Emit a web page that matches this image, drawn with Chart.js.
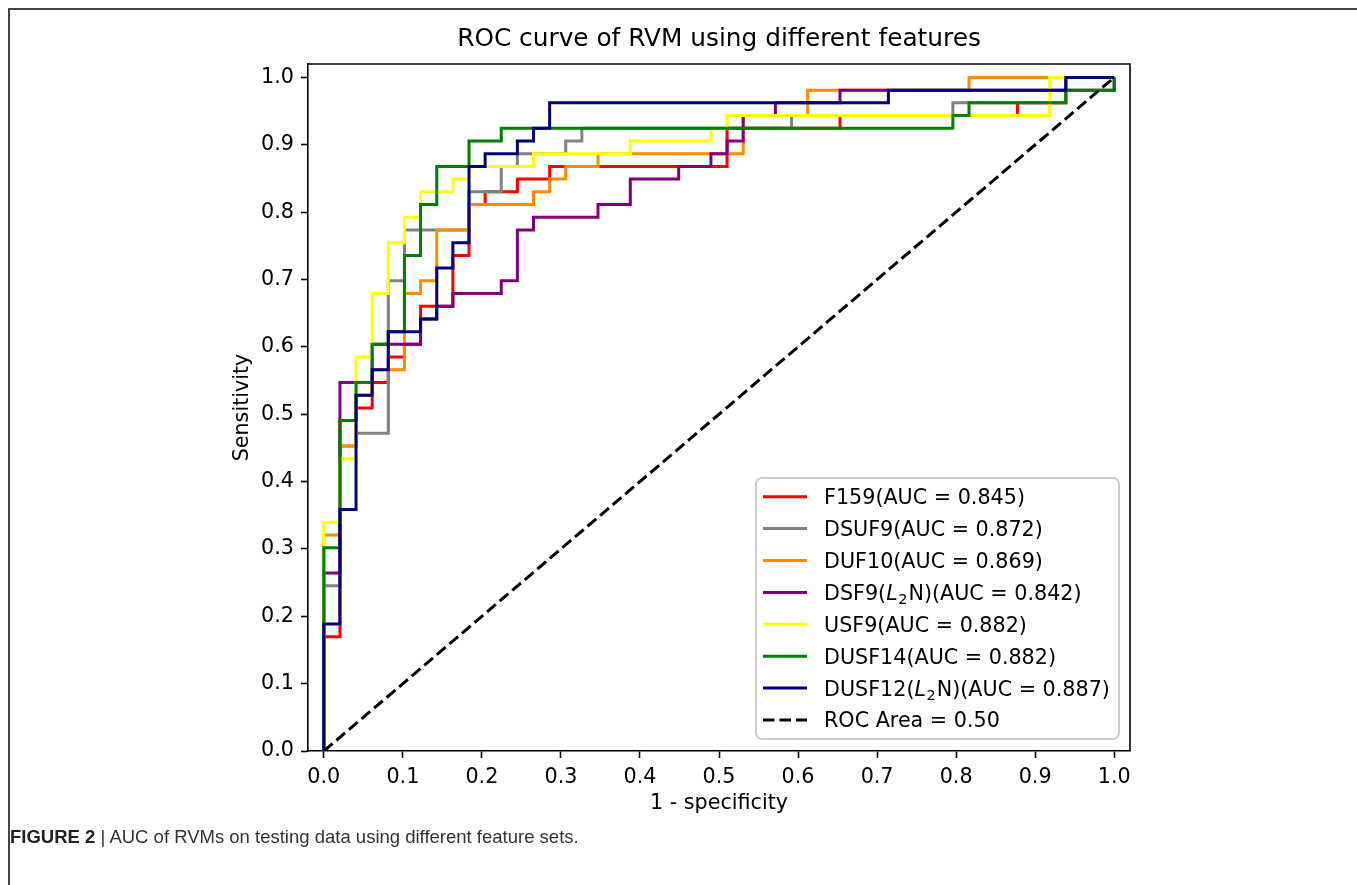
<!DOCTYPE html>
<html><head><meta charset="utf-8">
<script src="https://cdn.jsdelivr.net/npm/chart.js@4.4.1/dist/chart.umd.min.js"></script>
<style>
html,body{margin:0;padding:0;background:#fff;}
#wrap{position:relative;width:1357px;height:885px;overflow:hidden;background:#fff;}
#c{position:absolute;left:0;top:0;}
#frame{position:absolute;left:8px;top:8px;width:1400px;height:900px;border-left:2px solid #444;border-top:2px solid #444;}
#cap{position:absolute;left:10px;top:826px;font-family:"Liberation Sans",Arial,sans-serif;font-size:18.5px;color:#333;white-space:nowrap;}
#cap b{color:#222;}
</style></head><body>
<div id="wrap"><div id="frame"></div><canvas id="c" width="1357" height="885"></canvas>
<div id="cap"><b>FIGURE 2</b> | AUC of RVMs on testing data using different feature sets.</div></div>
<script>
// ---- data ----
const tickValues = [0, 0.1, 0.2, 0.3, 0.4, 0.5, 0.6, 0.7, 0.8, 0.9, 1.0];
const tickLabels = ['0.0','0.1','0.2','0.3','0.4','0.5','0.6','0.7','0.8','0.9','1.0'];
const seriesLabels = ['F159(AUC = 0.845)','DSUF9(AUC = 0.872)','DUF10(AUC = 0.869)','DSF9($L_2$N)(AUC = 0.842)','USF9(AUC = 0.882)','DUSF14(AUC = 0.882)','DUSF12($L_2$N)(AUC = 0.887)','ROC Area = 0.50'];
const seriesColors = ['#ff0000','#808080','#ff8c00','#800080','#ffff00','#008000','#000080','#000000'];

const f159_fpr = [0,0,.0204,.0204,.0408,.0408,.0612,.0612,.0816,.0816,.1020,.1020,.1224,.1224,.1633,.1633,.1837,.1837,.2041,.2041,.2449,.2449,.2857,.2857,.5102,.5102,.6531,.6531,.8776,.8776,.9388,.9388,1];
const f159_tpr = [0,.1698,.1698,.4906,.4906,.5094,.5094,.5472,.5472,.5849,.5849,.6038,.6038,.6604,.6604,.7358,.7358,.8113,.8113,.8302,.8302,.8491,.8491,.8679,.8679,.9245,.9245,.9434,.9434,.9623,.9623,1,1];

const dsuf9_fpr = [0,0,.0204,.0204,.0408,.0408,.0816,.0816,.1020,.1020,.1837,.1837,.2245,.2245,.2449,.2449,.3061,.3061,.3265,.3265,.5918,.5918,.7959,.7959,.9388,.9388,1];
const dsuf9_tpr = [0,.2453,.2453,.4528,.4528,.4717,.4717,.6981,.6981,.7736,.7736,.8302,.8302,.8679,.8679,.8868,.8868,.9057,.9057,.9245,.9245,.9434,.9434,.9623,.9623,1,1];

const duf10_fpr = [0,0,.0204,.0204,.0408,.0408,.0612,.0612,.1020,.1020,.1224,.1224,.1429,.1429,.1837,.1837,.2653,.2653,.2857,.2857,.3061,.3061,.3469,.3469,.5306,.5306,.6122,.6122,.8163,.8163,1];
const duf10_tpr = [0,.3208,.3208,.4528,.4528,.5283,.5283,.5660,.5660,.6792,.6792,.6981,.6981,.7736,.7736,.8113,.8113,.8302,.8302,.8491,.8491,.8679,.8679,.8868,.8868,.9434,.9434,.9811,.9811,1,1];

const dsf9_fpr = [0,0,.0204,.0204,.0612,.0612,.1224,.1224,.1429,.1429,.1633,.1633,.2245,.2245,.2449,.2449,.2653,.2653,.3469,.3469,.3878,.3878,.4490,.4490,.4898,.4898,.5102,.5102,.5306,.5306,.5714,.5714,.6531,.6531,1,1];
const dsf9_tpr = [0,.2642,.2642,.5472,.5472,.6038,.6038,.6415,.6415,.6604,.6604,.6792,.6792,.6981,.6981,.7736,.7736,.7925,.7925,.8113,.8113,.8491,.8491,.8679,.8679,.8868,.8868,.9057,.9057,.9434,.9434,.9623,.9623,.9811,.9811,1];

const usf9_fpr = [0,0,.0204,.0204,.0408,.0408,.0612,.0612,.0816,.0816,.1020,.1020,.1224,.1224,.1633,.1633,.1837,.1837,.2653,.2653,.3878,.3878,.4898,.4898,.5102,.5102,.9184,.9184,1];
const usf9_tpr = [0,.3396,.3396,.4340,.4340,.5849,.5849,.6792,.6792,.7547,.7547,.7925,.7925,.8302,.8302,.8491,.8491,.8679,.8679,.8868,.8868,.9057,.9057,.9245,.9245,.9434,.9434,1,1];

const dusf14_fpr = [0,0,.0204,.0204,.0408,.0408,.0612,.0612,.0816,.0816,.1020,.1020,.1224,.1224,.1429,.1429,.1837,.1837,.2245,.2245,.7959,.7959,.8163,.8163,.9388,.9388,1,1];
const dusf14_tpr = [0,.3019,.3019,.4906,.4906,.5472,.5472,.6038,.6038,.6226,.6226,.7358,.7358,.8113,.8113,.8679,.8679,.9057,.9057,.9245,.9245,.9434,.9434,.9623,.9623,.9811,.9811,1];

const dusf12_fpr = [0,0,.0204,.0204,.0408,.0408,.0612,.0612,.0816,.0816,.1224,.1224,.1429,.1429,.1633,.1633,.1837,.1837,.2041,.2041,.2449,.2449,.2653,.2653,.2857,.2857,.7143,.7143,.9388,.9388,1];
const dusf12_tpr = [0,.1887,.1887,.3585,.3585,.5283,.5283,.5660,.5660,.6226,.6226,.6415,.6415,.7170,.7170,.7547,.7547,.8679,.8679,.8868,.8868,.9057,.9057,.9245,.9245,.9623,.9623,.9811,.9811,1,1];

const chance_fpr = [0, 1];
const chance_tpr = [0, 1];

// ---- build ----
const FONT = '"DejaVu Sans", sans-serif';
const FS = 20.7;
const xs = [f159_fpr, dsuf9_fpr, duf10_fpr, dsf9_fpr, usf9_fpr, dusf14_fpr, dusf12_fpr, chance_fpr];
const ys = [f159_tpr, dsuf9_tpr, duf10_tpr, dsf9_tpr, usf9_tpr, dusf14_tpr, dusf12_tpr, chance_tpr];
const drawOrder = [7, 6, 5, 4, 3, 2, 1, 0]; // lower = drawn later (on top)

const datasets = xs.map((xa, k) => ({
  label: seriesLabels[k],
  data: xa.map((v, n) => ({x: v, y: ys[k][n]})),
  borderColor: seriesColors[k],
  backgroundColor: seriesColors[k],
  borderWidth: 3,
  borderDash: k === 7 ? [11.5, 5] : [],
  pointRadius: 0,
  tension: 0,
  fill: false,
  order: drawOrder[k],
  borderCapStyle: 'butt',
  borderJoinStyle: 'miter'
}));

function drawRich(ctx, text, x, y, fs) {
  const parts = text.split(/\$(.*?)\$/);
  let cx = x;
  const base = y + 0.36 * fs;
  ctx.textBaseline = 'alphabetic';
  ctx.textAlign = 'left';
  parts.forEach((p, idx) => {
    if (idx % 2 === 0) {
      ctx.font = fs + 'px ' + FONT;
      ctx.fillText(p, cx, base);
      cx += ctx.measureText(p).width;
    } else {
      const m = p.split('_');
      ctx.font = 'oblique ' + fs + 'px ' + FONT;
      ctx.fillText(m[0], cx, base);
      cx += ctx.measureText(m[0]).width + 0.5;
      if (m[1]) {
        ctx.font = (fs * 0.7) + 'px ' + FONT;
        ctx.fillText(m[1], cx, base + 0.22 * fs);
        cx += ctx.measureText(m[1]).width + 1;
      }
    }
  });
}

const decor = {
  id: 'decor',
  afterDraw(chart) {
    const ctx = chart.ctx;
    const a = chart.chartArea;
    ctx.save();
    // top & right spines
    ctx.strokeStyle = '#000';
    ctx.lineWidth = 1.6;
    ctx.beginPath();
    ctx.moveTo(a.left, a.top); ctx.lineTo(a.right, a.top); ctx.lineTo(a.right, a.bottom);
    ctx.stroke();
    // title
    ctx.fillStyle = '#000';
    ctx.font = '24.8px ' + FONT;
    ctx.textAlign = 'center';
    ctx.textBaseline = 'alphabetic';
    ctx.fillText('ROC curve of RVM using different features', (a.left + a.right) / 2, a.top - 18);
    // axis labels
    ctx.font = FS + 'px ' + FONT;
    ctx.textBaseline = 'middle';
    ctx.fillText('1 - specificity', (a.left + a.right) / 2, 804);
    ctx.translate(243, (a.top + a.bottom) / 2);
    ctx.rotate(-Math.PI / 2);
    ctx.fillText('Sensitivity', 0, 0);
    ctx.restore();

    // legend
    ctx.save();
    const bx = 756, by = 478, bw = 363, bh = 261, r = 6;
    ctx.beginPath();
    ctx.moveTo(bx + r, by); ctx.lineTo(bx + bw - r, by); ctx.arcTo(bx + bw, by, bx + bw, by + r, r);
    ctx.lineTo(bx + bw, by + bh - r); ctx.arcTo(bx + bw, by + bh, bx + bw - r, by + bh, r);
    ctx.lineTo(bx + r, by + bh); ctx.arcTo(bx, by + bh, bx, by + bh - r, r);
    ctx.lineTo(bx, by + r); ctx.arcTo(bx, by, bx + r, by, r);
    ctx.closePath();
    ctx.fillStyle = 'rgba(255,255,255,0.8)';
    ctx.fill();
    ctx.strokeStyle = '#cccccc';
    ctx.lineWidth = 2;
    ctx.stroke();
    chart.data.datasets.forEach((ds, k) => {
      const yy = 496.7 + k * 31.9;
      ctx.strokeStyle = ds.borderColor;
      ctx.lineWidth = ds.borderWidth;
      ctx.setLineDash(ds.borderDash || []);
      ctx.beginPath(); ctx.moveTo(763, yy); ctx.lineTo(807, yy); ctx.stroke();
      ctx.setLineDash([]);
      ctx.fillStyle = '#000';
      drawRich(ctx, ds.label, 824, yy, FS);
    });
    ctx.restore();
  }
};

const axisCommon = {
  type: 'linear',
  afterBuildTicks: s => { s.ticks = tickValues.map(v => ({value: v})); },
  ticks: { callback: (v, i) => tickLabels[i], font: {family: FONT, size: FS}, color: '#000', padding: 7, autoSkip: false, maxRotation: 0 },
  grid: { drawOnChartArea: false, drawTicks: true, tickLength: 7, tickColor: '#000', tickWidth: 1.6 },
  border: { display: true, color: '#000', width: 1.6 }
};

new Chart(document.getElementById('c'), {
  type: 'line',
  data: { datasets },
  options: {
    responsive: false, animation: false, devicePixelRatio: 1,
    layout: { padding: { left: 0, top: 64, right: 227, bottom: 0 } },
    plugins: { legend: { display: false }, title: { display: false }, tooltip: { enabled: false } },
    scales: {
      x: Object.assign({}, axisCommon, { min: -0.02, max: 1.02, afterFit: s => { s.height = 134; } }),
      y: Object.assign({}, axisCommon, { min: 0, max: 1.02, afterFit: s => { s.width = 308; } })
    }
  },
  plugins: [decor]
});
</script>
</body></html>
